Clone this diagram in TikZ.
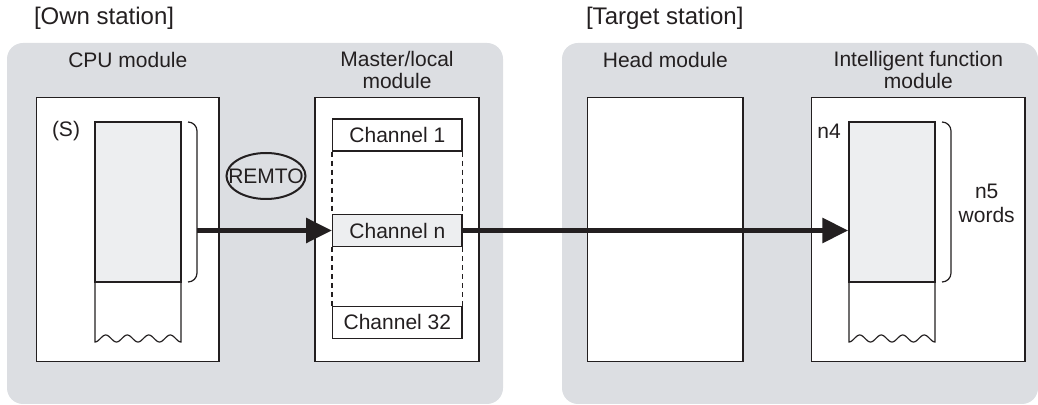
\documentclass[tikz,border=0pt]{standalone}
\usepackage{fontspec}
\setmainfont{Liberation Sans}
\usetikzlibrary{arrows.meta,shapes.geometric}
\definecolor{PanelGray}{HTML}{DCDEE2}
\definecolor{AreaGray}{HTML}{EDEEF0}
\definecolor{InkBlack}{HTML}{231F20}

\begin{document}
\begin{tikzpicture}[x=0.5pt, y=-0.5pt, font=\fontsize{10.5}{11}\selectfont, text=InkBlack,
  panel/.style={fill=PanelGray, rounded corners=8pt},
  title/.style={anchor=west, font=\fontsize{12}{13}\selectfont},
  modbox/.style={draw=InkBlack, fill=white, line width=0.65pt, minimum width=#1, minimum height=132pt, inner sep=0pt},
  chbox/.style={draw=InkBlack, line width=0.65pt, minimum width=64.65pt, minimum height=16pt, inner sep=0pt},
  membox/.style={draw=InkBlack, fill=AreaGray, line width=0.65pt, minimum width=43pt, minimum height=80pt, inner sep=0pt},
  bracket/.style={draw=InkBlack, line width=0.6pt},
  chdash/.style={draw=InkBlack, line width=0.6pt, dash pattern=on 2.5pt off 2pt},
  flow/.style={draw=InkBlack, line width=2.8pt, -{Triangle[length=13pt,width=12pt]}}]
  \useasboundingbox (0,0) rectangle (1038,405);

  % Stations
  \fill[panel] (7,43) rectangle (503,404);
  \fill[panel] (562,43) rectangle (1038,404);
  \node[title] (ownlbl) at (27,18) {[Own station]};
  \node[title] (tgtlbl) at (579,18) {[Target station]};

  % Modules
  \node (cpulbl) at (127.85,60) {CPU module};
  \node[align=center] (masterlbl) at (397,70) {Master/local\\module};
  \node (headlbl) at (665.35,60) {Head module};
  \node[align=center] (ifmlbl) at (918.35,70) {Intelligent function\\module};
  \node[modbox=91.15pt] (cpu) at (127.85,229.7) {};
  \node[modbox=82pt] (master) at (397,229.7) {};
  \node[modbox=77.65pt] (head) at (665.35,229.7) {};
  \node[modbox=106.65pt] (ifm) at (918.35,229.7) {};

  % Device areas with cut-off bottom
  \foreach \mx/\mname in {95/srcmem, 849/dstmem}{
    \draw[bracket] (\mx,282) -- (\mx,342)
      -- plot[domain=0:1, samples=81] ({\mx+86*\x},{338.5+3.5*cos(1440*\x)})
      -- (\mx+86,282);
    \node[membox] (\mname) at (\mx+43,202) {};
    \draw[bracket] (\mx+93,122) to[out=0,in=90] (\mx+102,131) -- (\mx+102,273)
      to[out=-90,in=0] (\mx+93,282);
  }
  \node (slbl) at (66,131) {(S)};
  \node (n4lbl) at (829,131) {n4};
  \node[align=center, font=\fontsize{10.5}{12}\selectfont] (wordslbl) at (986.7,203.5) {n5\\words};

  % Channels
  \node[chbox, fill=white] (ch1) at (397.35,135) {Channel 1};
  \node[chbox, fill=AreaGray] (chn) at (397.35,230.5) {Channel n};
  \node[chbox, fill=white] (ch32) at (397.35,322.3) {Channel 32};
  \draw[chdash] (ch1.south west) -- (chn.north west) (ch1.south east) -- (chn.north east);
  \draw[chdash] (chn.south west) -- (ch32.north west) (chn.south east) -- (ch32.north east);

  % Transfer
  \node[ellipse, draw=InkBlack, line width=1pt, minimum width=39.5pt, minimum height=23pt,
    inner xsep=-6pt, inner ysep=0pt] (remto) at (266,176) {REMTO};
  \coordinate (srcbr) at (197,230.5);
  \draw[flow] (srcbr) -- (chn.west);
  \draw[flow] (chn.east) -- (chn.east -| dstmem.west);
\end{tikzpicture}
\end{document}
